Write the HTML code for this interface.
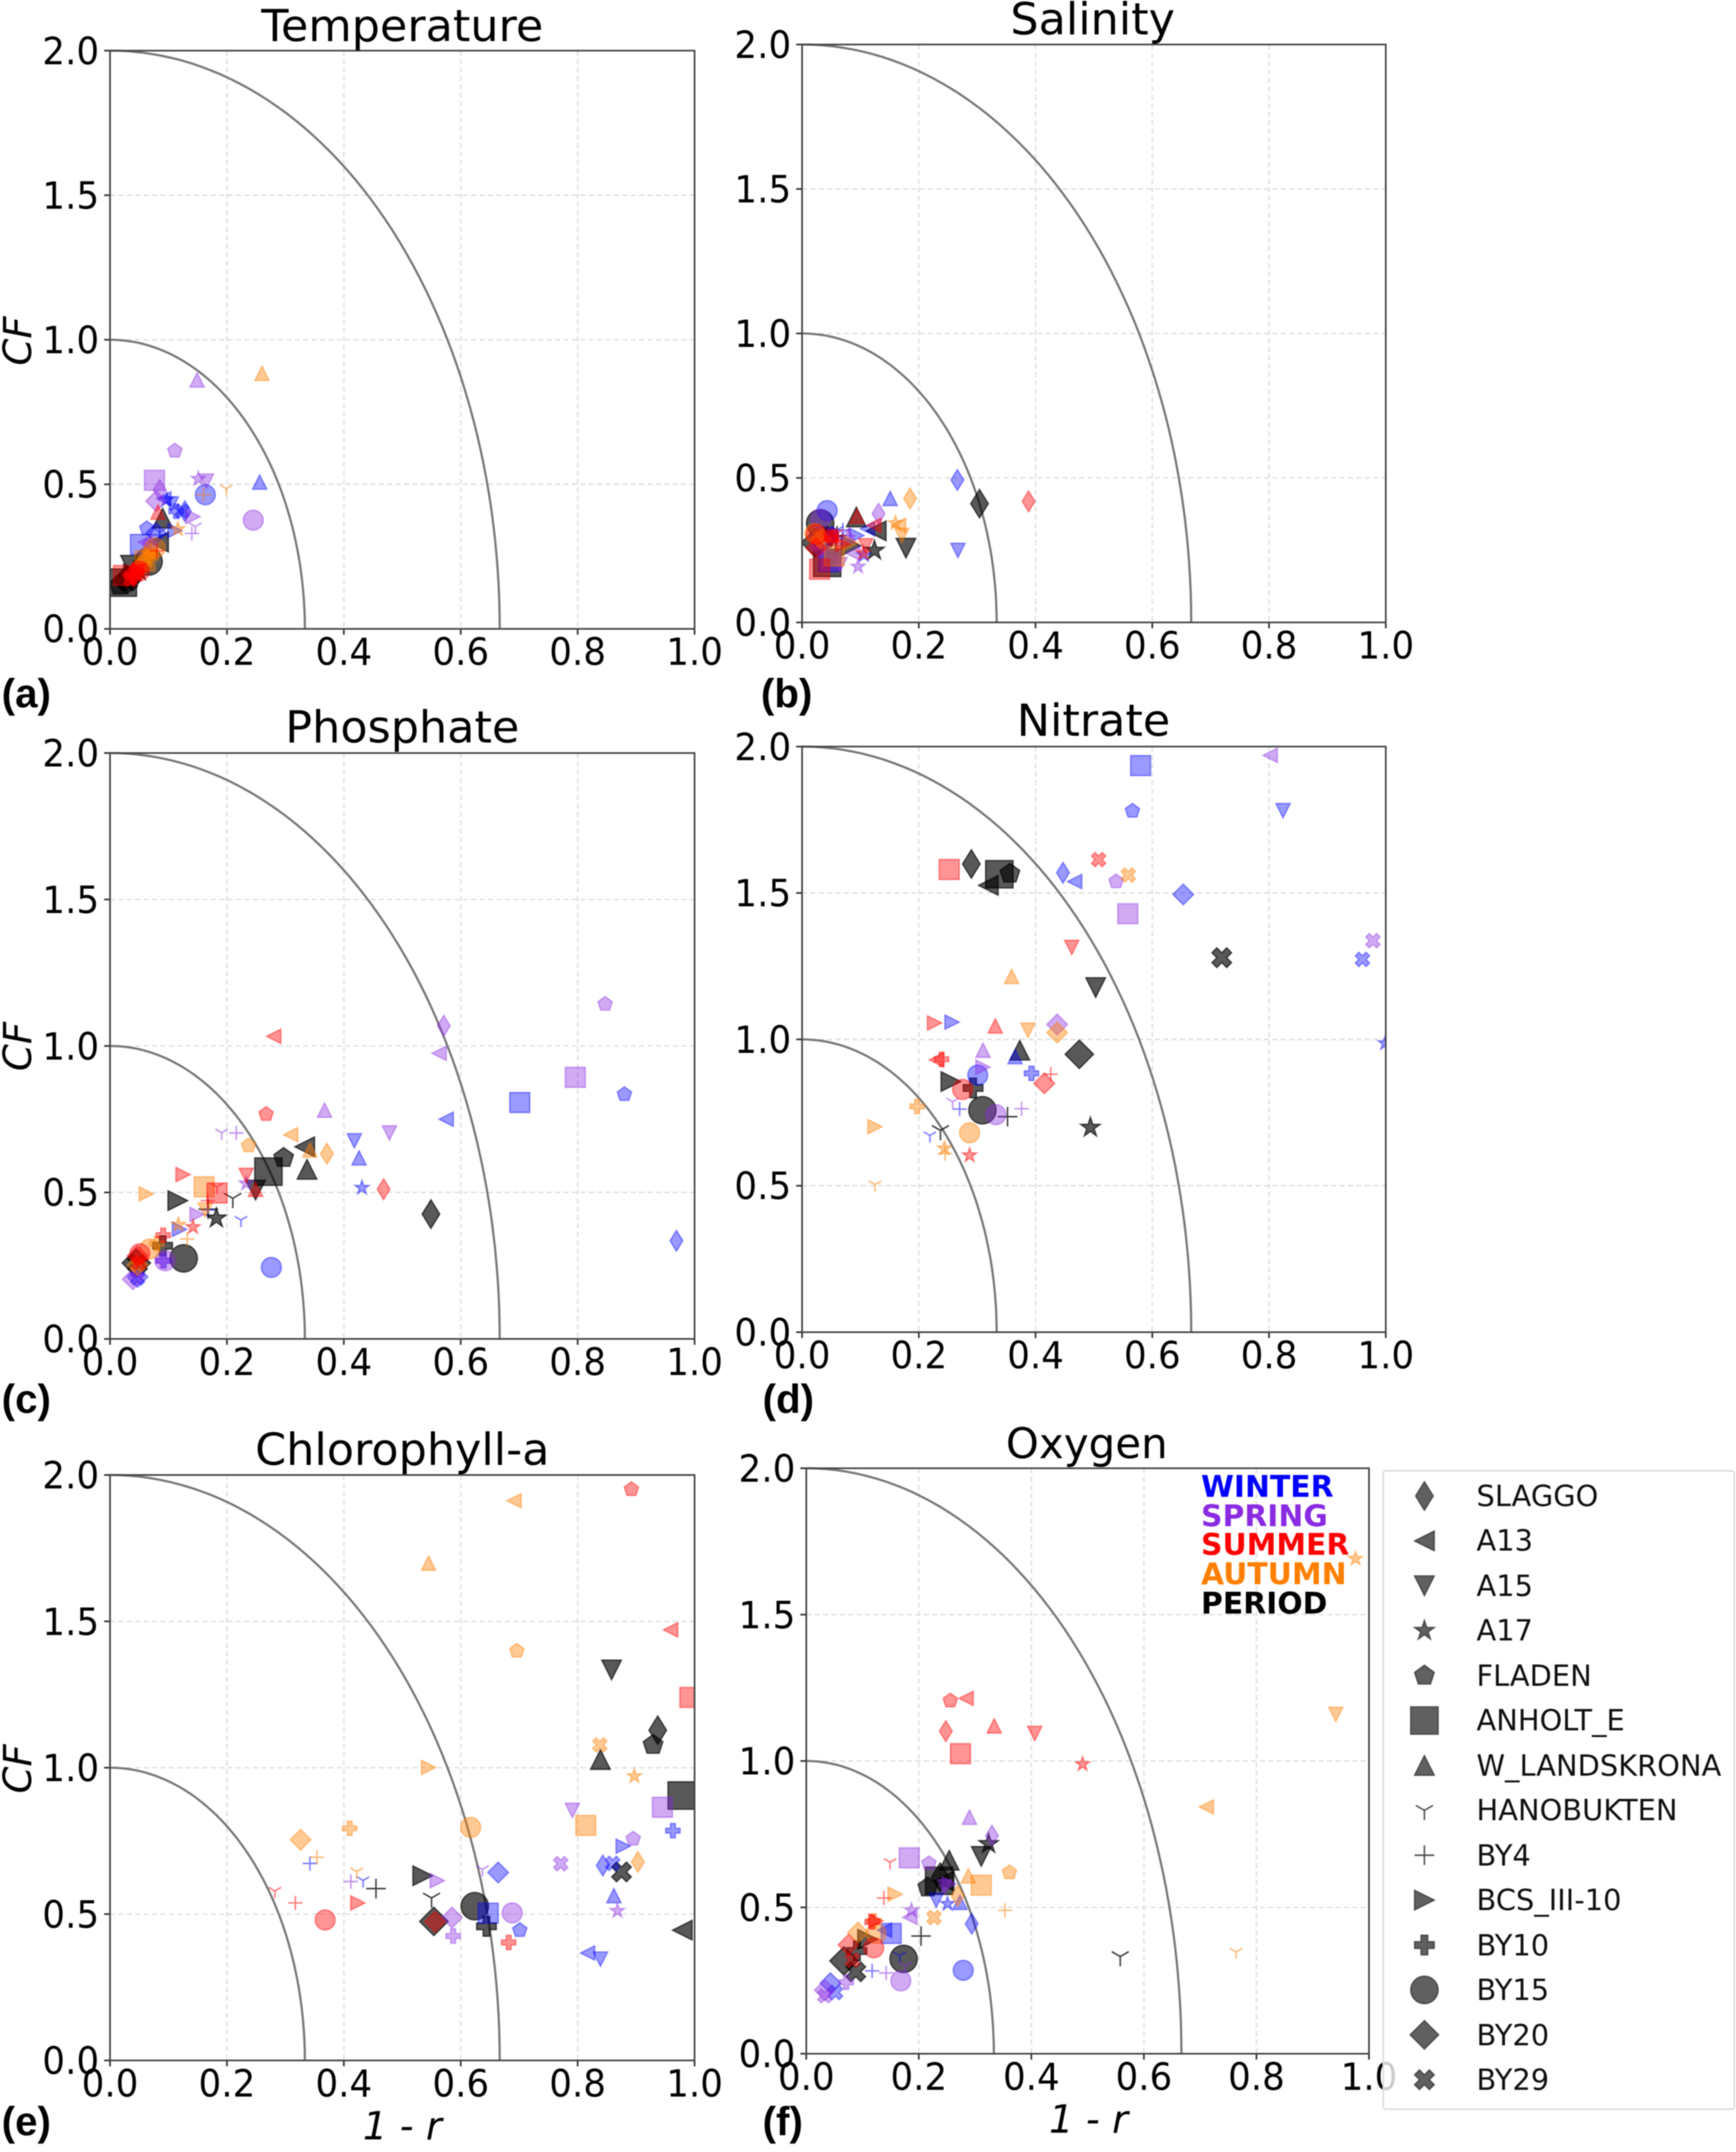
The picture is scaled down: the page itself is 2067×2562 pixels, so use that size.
<!DOCTYPE html>
<html lang="en">
<head>
<meta charset="utf-8">
<title>Target diagrams by variable</title>
<style>
html,body{margin:0;padding:0;background:#fff;}
svg{display:block;filter:blur(0.6px);}
text{font-family:"DejaVu Sans",sans-serif;fill:#000;}
.title{font-size:53px;text-anchor:middle;}
.tick{font-size:42.5px;}
.axis-title{font-size:46px;font-style:italic;}
.tag{font-family:"Liberation Sans",sans-serif;font-weight:700;font-size:48px;}
.season{font-weight:700;font-size:35.5px;}
.station{font-size:34.4px;fill:#111;}
</style>
</head>
<body>
<svg id="figure" xmlns="http://www.w3.org/2000/svg" width="2067" height="2562" viewBox="0 0 2067 2562">
  <rect width="2067" height="2562" fill="#fff"/>
  <g id="panel-a"></g>
  <g id="panel-b"></g>
  <g id="panel-c"></g>
  <g id="panel-d"></g>
  <g id="panel-e"></g>
  <g id="panel-f"></g>

  <text class="title" x="479" y="49">Temperature</text>
  <text class="title" x="1301" y="41">Salinity</text>
  <text class="title" x="479" y="884">Phosphate</text>
  <text class="title" x="1302" y="876">Nitrate</text>
  <text class="title" x="479" y="1744">Chlorophyll-a</text>
  <text class="title" style="font-size:50px" x="1294" y="1736">Oxygen</text>

  <text class="tag" x="2" y="842">(a)</text>
  <text class="tag" x="906" y="842">(b)</text>
  <text class="tag" x="2" y="1682">(c)</text>
  <text class="tag" x="908" y="1682">(d)</text>
  <text class="tag" x="2" y="2542">(e)</text>
  <text class="tag" x="908" y="2542">(f)</text>

  <text class="axis-title" text-anchor="middle" transform="translate(37 406) rotate(-90)">CF</text>
  <text class="axis-title" text-anchor="middle" transform="translate(37 1246) rotate(-90)">CF</text>
  <text class="axis-title" text-anchor="middle" transform="translate(37 2106) rotate(-90)">CF</text>
  <text class="axis-title" text-anchor="middle" x="479" y="2547">1 - r</text>
  <text class="axis-title" text-anchor="middle" x="1296" y="2539">1 - r</text>

  <g>
    <text class="season" x="1430" y="1782" style="fill:#0000ff">WINTER</text>
    <text class="season" x="1430" y="1817" style="fill:#8a2be2">SPRING</text>
    <text class="season" x="1430" y="1851" style="fill:#ff0000">SUMMER</text>
    <text class="season" x="1430" y="1886" style="fill:#ff7f00">AUTUMN</text>
    <text class="season" x="1430" y="1921" style="fill:#000000">PERIOD</text>
  </g>

  <g id="station-legend">
    <rect x="1647" y="1751" width="418" height="760" rx="3" fill="#fff" fill-opacity="0.8" stroke="#ddd" stroke-width="2"/>
    <text class="station" x="1758" y="1793">SLAGGO</text>
    <text class="station" x="1758" y="1846">A13</text>
    <text class="station" x="1758" y="1900">A15</text>
    <text class="station" x="1758" y="1953">A17</text>
    <text class="station" x="1758" y="2007">FLADEN</text>
    <text class="station" x="1758" y="2060">ANHOLT_E</text>
    <text class="station" x="1758" y="2114">W_LANDSKRONA</text>
    <text class="station" x="1758" y="2167">HANOBUKTEN</text>
    <text class="station" x="1758" y="2221">BY4</text>
    <text class="station" x="1758" y="2274">BCS_III-10</text>
    <text class="station" x="1758" y="2328">BY10</text>
    <text class="station" x="1758" y="2381">BY15</text>
    <text class="station" x="1758" y="2435">BY20</text>
    <text class="station" x="1758" y="2488">BY29</text>
  </g>
</svg>
<script>
// Station order of every series below
const stations = ['SLAGGO','A13','A15','A17','FLADEN','ANHOLT_E','W_LANDSKRONA','HANOBUKTEN','BY4','BCS_III-10','BY10','BY15','BY20','BY29'];
const stationMarkers = ['d','<','v','*','p','s','^','Y','+','>','P','o','D','X'];
const xTickLabels = ['0.0','0.2','0.4','0.6','0.8','1.0'];
const yTickLabels = ['0.0','0.5','1.0','1.5','2.0'];
const referenceArcs = [1, 2];

// Each entry: [1 - r, CF]; null = not visible in the figure
const temperatureWinter = [[.128,.407],[.092,.45],[.105,.432],[.097,.447],[.063,.347],[.052,.292],[.256,.508],[.085,.335],[.085,.325],[.111,.34],[.113,.407],[.163,.464],[.079,.331],[.123,.407]];
const temperatureSpring = [[.085,.48],[.06,.3],[.165,.511],[.151,.519],[.111,.616],[.076,.514],[.149,.861],[.146,.354],[.14,.33],[.142,.388],[.07,.285],[.245,.376],[.079,.442],[.068,.287]];
const temperatureSummer = [[.04,.19],[.045,.2],[.05,.2],[.045,.19],[.035,.18],[.023,.185],[.082,.404],[.05,.19],[.08,.27],[.05,.2],[.04,.18],[.05,.2],[.04,.19],[.035,.17]];
const temperatureAutumn = [[.07,.26],[.07,.26],[.065,.25],[.116,.345],[.06,.24],[.06,.235],[.26,.884],[.199,.485],[.16,.464],[.07,.26],[.05,.215],[.077,.28],[.055,.22],[.05,.21]];
const temperaturePeriod = [[.046,.2],[.083,.3],[.035,.22],[.05,.2],[.016,.15],[.022,.16],[.09,.383],[.05,.2],[.05,.2],[.04,.19],[.035,.18],[.066,.233],[.029,.17],[.03,.165]];

const salinityWinter = [[.266,.493],[.112,.324],[.267,.249],[.106,.233],[.05,.3],[.045,.21],[.151,.429],[.06,.32],[.07,.32],[.094,.301],[.05,.303],[.043,.387],[.03,.3],[.05,.3]];
const salinitySpring = [[.131,.376],[.087,.24],[.065,.2],[.096,.193],[.04,.28],[.05,.215],[.08,.3],[.07,.31],[.08,.3],[.07,.28],[.03,.28],[.031,.357],[.03,.26],[.03,.27]];
const salinitySummer = [[.388,.419],[.123,.336],[.109,.265],[.105,.24],[.05,.297],[.03,.184],[.094,.368],[.06,.31],[.06,.3],[.07,.27],[.05,.29],[.024,.305],[.024,.257],[.05,.3]];
const salinityAutumn = [[.185,.429],[.165,.336],[.171,.301],[.16,.344],null,[.055,.23],null,null,[.06,.28],[.084,.275],[.03,.29],[.022,.308],[.032,.289],[.03,.297]];
const salinityPeriod = [[.304,.411],[.127,.317],[.178,.257],[.124,.249],[.04,.29],[.043,.206],[.093,.365],[.057,.289],[.06,.3],[.084,.265],[.039,.297],[.031,.343],[.023,.276],[.035,.289]];

const phosphateWinter = [[.969,.335],[.575,.75],[.418,.676],[.431,.516],[.88,.835],[.701,.807],[.426,.618],[.224,.406],[.167,.44],[.119,.374],[.092,.267],[.276,.244],[.047,.212],[.047,.208]];
const phosphateSpring = [[.571,1.069],[.563,.975],[.478,.703],[.233,.531],[.847,1.143],[.796,.893],[.367,.781],[.191,.704],[.216,.703],[.149,.425],[.09,.267],[.094,.267],[.039,.204],[.047,.231]];
const phosphateSummer = [[.468,.511],[.28,1.033],[.233,.558],[.142,.382],[.267,.767],[.183,.498],[.249,.511],[.183,.519],[.167,.472],[.125,.561],[.091,.354],[.051,.291],[.047,.283],[.05,.26]];
const phosphateAutumn = [[.371,.632],[.309,.697],[.163,.44],[.117,.39],[.237,.66],[.161,.519],[.342,.645],null,[.132,.341],[.062,.495],[.08,.325],[.068,.307],[.047,.252],[.047,.252]];
const phosphatePeriod = [[.549,.426],[.333,.656],[.249,.508],[.182,.412],[.297,.618],[.271,.571],[.337,.579],[.21,.48],[.168,.443],[.116,.472],[.09,.318],[.126,.275],[.045,.259],[.047,.256]];

const nitrateWinter = [[.447,1.569],[.467,1.539],[.824,1.781],[.999,.987],[.566,1.78],[.58,1.935],[.365,.941],[.219,.672],[.27,.762],[.257,1.059],[.393,.884],[.301,.878],[.653,1.495],[.96,1.273]];
const nitrateSpring = [null,[.802,1.97],null,null,[.538,1.539],[.558,1.429],[.31,.963],[.258,.787],[.376,.763],[.31,.905],null,[.332,.743],[.437,1.051],[.978,1.337]];
const nitrateSummer = [null,[.23,.93],[.462,1.314],[.287,.604],null,[.252,1.58],[.331,1.046],null,[.426,.881],[.227,1.056],[.239,.932],[.275,.829],[.415,.85],[.508,1.614]];
const nitrateAutumn = [null,null,[.387,1.031],[.244,.628],null,null,[.359,1.215],[.125,.504],[.245,.61],[.125,.702],[.197,.771],[.287,.681],[.437,1.023],[.559,1.561]];
const nitratePeriod = [[.29,1.599],[.319,1.526],[.503,1.177],[.494,.699],[.356,1.566],[.338,1.564],[.373,.963],[.237,.689],[.352,.736],[.255,.856],[.293,.834],[.309,.758],[.475,.949],[.719,1.279]];

const chlorophyllWinter = [[.843,.666],[.817,.367],[.839,.346],null,[.701,.445],[.647,.503],[.862,.563],[.433,.615],[.342,.673],[.878,.732],[.963,.785],null,[.664,.642],[.86,.673]];
const chlorophyllSpring = [null,null,[.791,.854],[.868,.511],[.895,.757],[.945,.865],null,[.637,.653],[.412,.611],[.56,.614],[.587,.425],[.688,.504],[.585,.488],[.771,.672]];
const chlorophyllSummer = [null,[.959,1.471],null,null,[.892,1.951],[.992,1.24],null,[.282,.579],[.317,.538],[.424,.538],[.682,.403],[.368,.48],[.556,.474],null];
const chlorophyllAutumn = [[.903,.678],[.691,1.912],null,[.897,.971],[.696,1.399],[.814,.803],[.545,1.699],[.422,.645],[.354,.694],[.545,1.001],[.41,.793],[.617,.796],[.326,.754],[.838,1.078]];
const chlorophyllPeriod = [[.937,1.128],[.979,.445],[.858,1.334],null,[.929,1.078],[.978,.905],[.839,1.028],[.55,.555],[.455,.587],[.535,.631],[.644,.458],[.624,.527],[.554,.475],[.875,.644]];

const oxygenWinter = [[.294,.444],[.139,.422],[.231,.524],[.251,.512],null,[.151,.411],[.273,.517],[.166,.335],[.117,.283],null,null,[.279,.285],[.043,.241],[.052,.209]];
const oxygenSpring = [[.33,.745],[.184,.466],[.246,.57],[.187,.49],[.218,.65],[.183,.669],[.29,.808],[.176,.3],[.142,.276],[.254,.58],[.071,.244],[.168,.249],[.033,.217],[.033,.198]];
const oxygenSummer = [[.248,1.102],[.284,1.214],[.406,1.094],[.491,.989],[.256,1.206],[.274,1.025],[.334,1.12],[.149,.654],[.138,.532],[.124,.454],[.117,.45],[.12,.362],[.075,.372],[.082,.32]];
const oxygenAutumn = [[.269,.54],[.711,.843],[.941,1.159],[.976,1.691],[.361,.619],[.311,.576],[.288,.608],[.764,.348],[.353,.49],[.158,.545],[.12,.454],[.124,.411],[.092,.414],[.227,.465]];
const oxygenPeriod = [[.238,.603],[.245,.59],[.311,.674],[.324,.717],[.216,.568],[.236,.591],[.254,.661],[.558,.332],[.204,.402],[.109,.391],[.09,.351],[.173,.324],[.067,.317],[.088,.28]];

const SVGNS = 'http://www.w3.org/2000/svg';

function markerGeometry(kind, cx, cy, k) {
  const r = 11.7 * k;
  const big = 16.3 * k;
  const poly = function (pts, scale) {
    return 'M' + pts.map(function (p) { return (cx + p[0] * scale).toFixed(2) + ' ' + (cy + p[1] * scale).toFixed(2); }).join('L') + 'Z';
  };
  const radial = function (n, radius, inner) {
    const pts = [];
    const total = inner ? n * 2 : n;
    for (let i = 0; i < total; i++) {
      const a = -Math.PI / 2 + i * 2 * Math.PI / total;
      const rr = (inner && i % 2) ? inner : 1;
      pts.push([Math.cos(a) * rr, Math.sin(a) * rr]);
    }
    return poly(pts, radius);
  };
  switch (kind) {
    case 'd': return {d: poly([[0,-17],[10.5,0],[0,17],[-10.5,0]], k), filled: true};
    case 'D': return {d: poly([[0,-1.04],[1.04,0],[0,1.04],[-1.04,0]], big), filled: true};
    case '<': return {d: poly([[-1,0],[1,-1],[1,1]], r), filled: true};
    case '>': return {d: poly([[1,0],[-1,-1],[-1,1]], r), filled: true};
    case '^': return {d: poly([[0,-1],[1,1],[-1,1]], r), filled: true};
    case 'v': return {d: poly([[0,1],[1,-1],[-1,-1]], r), filled: true};
    case '*': return {d: radial(5, r * 1.05, 0.381), filled: true};
    case 'p': return {d: radial(5, r * 1.05), filled: true};
    case 's': return {d: poly([[-1,-1],[1,-1],[1,1],[-1,1]], big), filled: true};
    case 'P': return {d: poly([[-.34,-1],[.34,-1],[.34,-.34],[1,-.34],[1,.34],[.34,.34],[.34,1],[-.34,1],[-.34,.34],[-1,.34],[-1,-.34],[-.34,-.34]], r), filled: true};
    case 'X': return {d: poly([[-.5,-1],[0,-.5],[.5,-1],[1,-.5],[.5,0],[1,.5],[.5,1],[0,.5],[-.5,1],[-1,.5],[-.5,0],[-1,-.5]], r), filled: true};
    case 'o': return {d: 'M' + (cx - big) + ' ' + cy + 'a' + big + ' ' + big + ' 0 1 0 ' + (2 * big) + ' 0a' + big + ' ' + big + ' 0 1 0 ' + (-2 * big) + ' 0Z', filled: true};
    case '+': return {d: 'M' + (cx - r) + ' ' + cy + 'H' + (cx + r) + 'M' + cx + ' ' + (cy - r) + 'V' + (cy + r), filled: false};
    case 'Y': return {d: 'M' + cx + ' ' + cy + 'V' + (cy + r) + 'M' + cx + ' ' + cy + 'L' + (cx - .87 * r) + ' ' + (cy - .5 * r) + 'M' + cx + ' ' + cy + 'L' + (cx + .87 * r) + ' ' + (cy - .5 * r), filled: false};
  }
  return {d: '', filled: true};
}

function drawMarker(parent, kind, cx, cy, k, color, alpha, label) {
  const geo = markerGeometry(kind, cx, cy, k);
  const el = document.createElementNS(SVGNS, 'path');
  el.setAttribute('d', geo.d);
  el.setAttribute('stroke', color);
  el.setAttribute('stroke-opacity', geo.filled ? alpha : Math.min(1, alpha + 0.1));
  el.setAttribute('stroke-width', geo.filled ? 1.6 : 1.8);
  if (geo.filled) {
    el.setAttribute('fill', color);
    el.setAttribute('fill-opacity', alpha);
  } else {
    el.setAttribute('fill', 'none');
  }
  
  
  parent.appendChild(el);
}

function addLine(parent, x1, y1, x2, y2, stroke, width, dash, label) {
  const el = document.createElementNS(SVGNS, 'line');
  el.setAttribute('x1', x1);
  el.setAttribute('y1', y1);
  el.setAttribute('x2', x2);
  el.setAttribute('y2', y2);
  el.setAttribute('stroke', stroke);
  el.setAttribute('stroke-width', width);
  if (dash) el.setAttribute('stroke-dasharray', dash);
  
  
  parent.appendChild(el);
}

function addTickText(parent, x, y, anchor, content, label) {
  const el = document.createElementNS(SVGNS, 'text');
  el.setAttribute('class', 'tick');
  el.setAttribute('transform', 'translate(' + x + ' ' + y + ') scale(1 1.05)');
  el.setAttribute('text-anchor', anchor);
  el.textContent = content;
  
  
  parent.appendChild(el);
}

function drawPanel(id, box, seasonSeries) {
  const g = document.getElementById(id);
  const xScale = function (v) { return box.left + v * (box.right - box.left); };
  const yScale = function (v) { return box.bottom - (v / 2) * (box.bottom - box.top); };

  xTickLabels.forEach(function (t) {
    const v = parseFloat(t);
    if (v > 0 && v < 1) addLine(g, xScale(v), box.top, xScale(v), box.bottom, '#dcdcdc', 1.6, '6 4', 'x-gridline');
    addLine(g, xScale(v), box.bottom, xScale(v), box.bottom + 7, '#333', 2, null, 'x-tick');
    addTickText(g, xScale(v), box.bottom + 43, 'middle', t, 'x-tick-label');
  });
  yTickLabels.forEach(function (t) {
    const v = parseFloat(t);
    if (v > 0 && v < 2) addLine(g, box.left, yScale(v), box.right, yScale(v), '#dcdcdc', 1.6, '6 4', 'y-gridline');
    addLine(g, box.left - 7, yScale(v), box.left, yScale(v), '#333', 2, null, 'y-tick');
    addTickText(g, box.left - 13, yScale(v) + 16, 'end', t, 'y-tick-label');
  });

  referenceArcs.forEach(function (radius) {
    const parts = [];
    for (let deg = 0; deg <= 90; deg += 1.5) {
      const a = deg * Math.PI / 180;
      parts.push(xScale(radius / 3 * Math.sin(a)).toFixed(1) + ' ' + yScale(radius * Math.cos(a)).toFixed(1));
    }
    const arc = document.createElementNS(SVGNS, 'path');
    arc.setAttribute('d', 'M' + parts.join('L'));
    arc.setAttribute('fill', 'none');
    arc.setAttribute('stroke', '#777');
    arc.setAttribute('stroke-width', 2.6);
    
    
    g.appendChild(arc);
  });

  const clipId = id + '-clip';
  const clip = document.createElementNS(SVGNS, 'clipPath');
  clip.setAttribute('id', clipId);
  const clipRect = document.createElementNS(SVGNS, 'rect');
  clipRect.setAttribute('x', box.left);
  clipRect.setAttribute('y', box.top);
  clipRect.setAttribute('width', box.right - box.left);
  clipRect.setAttribute('height', box.bottom - box.top);
  clip.appendChild(clipRect);
  g.appendChild(clip);

  const marks = document.createElementNS(SVGNS, 'g');
  marks.setAttribute('clip-path', 'url(#' + clipId + ')');
  
  
  g.appendChild(marks);

  seasonSeries.forEach(function (s) {
    s.points.forEach(function (pt, i) {
      if (!pt) return;
      const label = s.name + '-' + stations[i].toLowerCase().replace(/[^a-z0-9]+/g, '-') + '-marker';
      drawMarker(marks, stationMarkers[i], xScale(pt[0]), yScale(pt[1]), s.scale, s.color, s.alpha, label);
    });
  });

  const frame = document.createElementNS(SVGNS, 'rect');
  frame.setAttribute('x', box.left);
  frame.setAttribute('y', box.top);
  frame.setAttribute('width', box.right - box.left);
  frame.setAttribute('height', box.bottom - box.top);
  frame.setAttribute('fill', 'none');
  frame.setAttribute('stroke', '#444');
  frame.setAttribute('stroke-width', 2);
  
  
  g.appendChild(frame);
}

function seasonsFor(winter, spring, summer, autumn, period) {
  return [
    {name: 'period', points: period, color: '#000000', alpha: 0.65, scale: 1},
    {name: 'winter', points: winter, color: '#0000ff', alpha: 0.4, scale: 0.73},
    {name: 'spring', points: spring, color: '#8a2be2', alpha: 0.4, scale: 0.73},
    {name: 'autumn', points: autumn, color: '#ff7f00', alpha: 0.42, scale: 0.73},
    {name: 'summer', points: summer, color: '#ff0000', alpha: 0.42, scale: 0.73}
  ];
}

drawPanel('panel-a', {left: 131, right: 827, top: 60.3, bottom: 748.7}, seasonsFor(temperatureWinter, temperatureSpring, temperatureSummer, temperatureAutumn, temperaturePeriod));
drawPanel('panel-b', {left: 955, right: 1650, top: 53, bottom: 741}, seasonsFor(salinityWinter, salinitySpring, salinitySummer, salinityAutumn, salinityPeriod));
drawPanel('panel-c', {left: 131, right: 827, top: 896.5, bottom: 1594}, seasonsFor(phosphateWinter, phosphateSpring, phosphateSummer, phosphateAutumn, phosphatePeriod));
drawPanel('panel-d', {left: 955, right: 1650, top: 888.8, bottom: 1586}, seasonsFor(nitrateWinter, nitrateSpring, nitrateSummer, nitrateAutumn, nitratePeriod));
drawPanel('panel-e', {left: 131, right: 827, top: 1756, bottom: 2453}, seasonsFor(chlorophyllWinter, chlorophyllSpring, chlorophyllSummer, chlorophyllAutumn, chlorophyllPeriod));
drawPanel('panel-f', {left: 960, right: 1630, top: 1748, bottom: 2445}, seasonsFor(oxygenWinter, oxygenSpring, oxygenSummer, oxygenAutumn, oxygenPeriod));

const legendGroup = document.getElementById('station-legend');
stationMarkers.forEach(function (kind, i) {
  const label = 'legend-marker-' + stations[i].toLowerCase().replace(/[^a-z0-9]+/g, '-');
  drawMarker(legendGroup, kind, 1696, 1781 + i * 53.46, 1, '#333333', 0.78, label);
});
</script>
</body>
</html>
